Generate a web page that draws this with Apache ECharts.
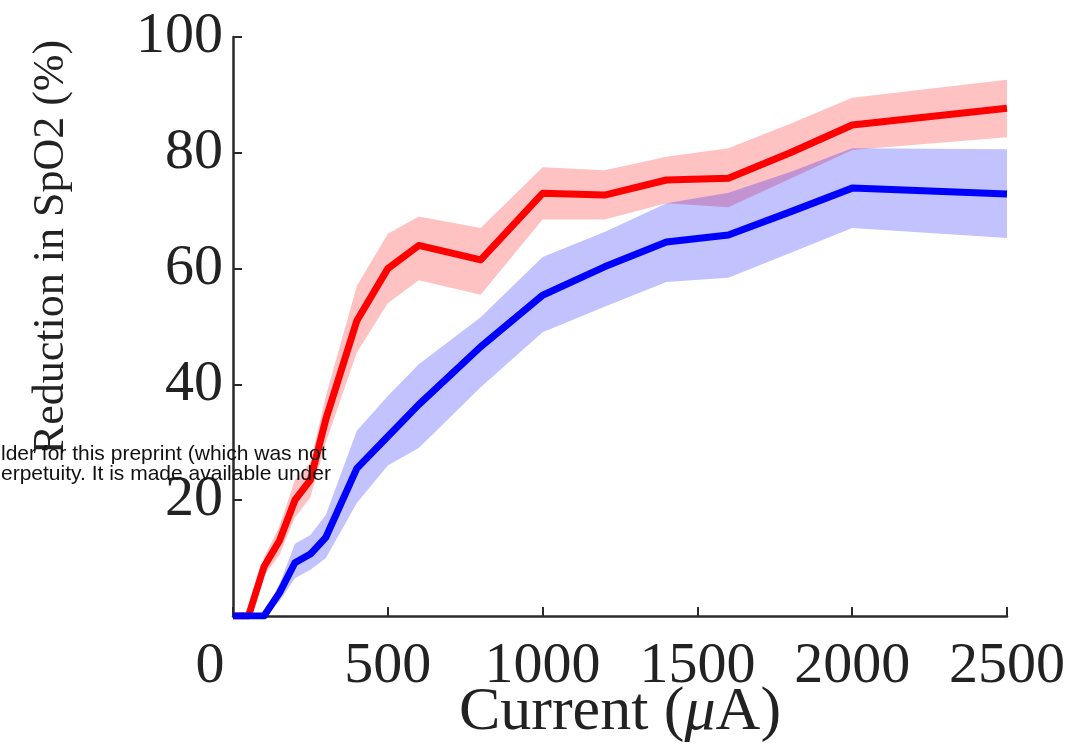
<!DOCTYPE html>
<html>
<head>
<meta charset="utf-8">
<script src="https://cdn.jsdelivr.net/npm/echarts@6/dist/echarts.min.js"></script>
<style>html,body{margin:0;padding:0;background:#fff}#c{width:1069px;height:748px}</style>
</head>
<body>
<div id="c"></div>
<script>
// Current (µA)
var currents = [0, 50, 100, 150, 200, 250, 300, 400, 500, 600, 800, 1000, 1200, 1400, 1600, 1800, 2000, 2500];
// Red series mean and band
var redMean  = [0, 0, 8.5, 13, 20, 23.5, 34, 51, 60, 64, 61.5, 73, 72.7, 75.3, 75.6, 80, 84.8, 87.7];
var redUpper = [0, 0, 10, 15.5, 23.5, 26.5, 38, 57, 66, 69, 67, 77.5, 77, 79.3, 80.8, 85, 89.5, 92.6];
var redLower = [0, 0, 7, 10.5, 17, 20.5, 30, 45.5, 54, 58, 55.5, 68.5, 68.5, 71.3, 70.6, 75.5, 80.5, 82.7];
// Blue series mean and band
var blueMean  = [0, 0, 0, 4, 9.2, 10.7, 13.6, 25.5, 31, 36.5, 46.5, 55.4, 60.3, 64.6, 65.8, 69.8, 73.9, 72.9];
var blueUpper = [0, 0, 0.5, 5.5, 12.5, 14, 17.5, 32, 38, 43.5, 51.6, 62, 66.3, 71.3, 73.1, 76.7, 80.8, 80.6];
var blueLower = [0, 0, 0, 2.5, 6.5, 8, 10, 19.5, 26, 29, 39.5, 49, 53.4, 57.7, 58.4, 62.7, 67, 65.3];
// Tick labels
var xTicks = [0, 500, 1000, 1500, 2000, 2500];
var yTicks = [20, 40, 60, 80, 100];

function pairs(ys) { return currents.map(function (x, i) { return [x, ys[i]]; }); }

var serif = '"Liberation Serif", "Times New Roman", serif';
var chart = echarts.init(document.getElementById('c'), null, {renderer: 'canvas'});

function band(name, up, lo, color) {
  var rows = currents.map(function (x, i) { return [x, up[i], lo[i]]; });
  return {
    type: 'custom', name: name, data: rows, encode: {x: 0, y: [1, 2]}, silent: true, z: 1,
    renderItem: function (params, api) {
      if (params.dataIndex !== 0) return null;
      var pts = [], i;
      for (i = 0; i < rows.length; i++) pts.push(api.coord([rows[i][0], rows[i][1]]));
      for (i = rows.length - 1; i >= 0; i--) pts.push(api.coord([rows[i][0], rows[i][2]]));
      return {type: 'polygon', shape: {points: pts}, style: {fill: color, stroke: null}};
    }
  };
}

chart.setOption({
  animation: false,
  backgroundColor: '#fff',
  grid: {left: 233, right: 62, top: 37, bottom: 132, containLabel: false, outerBoundsMode: 'none'},
  xAxis: {
    type: 'value', min: 0, max: 2500, interval: 500,
    axisLine: {show: true, lineStyle: {color: '#2a2a2a', width: 2.5}},
    axisTick: {show: true, inside: true, length: 9, lineStyle: {color: '#2a2a2a', width: 2}},
    splitLine: {show: false},
    axisLabel: {
      margin: 22, color: '#222', fontFamily: serif, fontSize: 58,
      formatter: function (v) { return xTicks.indexOf(v) === 0 ? '{z|' + v + '}' : String(v); },
      rich: {z: {fontFamily: serif, fontSize: 58, color: '#222', padding: [0, 46, 0, 0]}}
    },
    name: 'Current ({it|μ}A)', nameLocation: 'middle', nameGap: 66, nameMoveOverlap: false,
    nameTextStyle: {fontFamily: serif, fontSize: 62, color: '#222',
      rich: {it: {fontFamily: serif, fontSize: 62, fontStyle: 'italic', color: '#222'}}}
  },
  yAxis: {
    type: 'value', min: 0, max: 100, interval: 20,
    axisLine: {show: true, lineStyle: {color: '#2a2a2a', width: 2.5}},
    axisTick: {show: true, inside: true, length: 9, lineStyle: {color: '#2a2a2a', width: 2}},
    splitLine: {show: false},
    axisLabel: {
      margin: 10, color: '#222', fontFamily: serif, fontSize: 58,
      formatter: function (v) { return yTicks.indexOf(v) >= 0 ? String(v) : ''; }
    }
  },
  series: [
    band('redBand', redUpper, redLower, 'rgba(255,0,0,0.24)'),
    band('blueBand', blueUpper, blueLower, 'rgba(0,0,255,0.24)'),
    {type: 'line', name: 'red', data: pairs(redMean), symbol: 'none',
      lineStyle: {color: '#ff0000', width: 7, join: 'round'}, z: 3},
    {type: 'line', name: 'blue', data: pairs(blueMean), symbol: 'none',
      lineStyle: {color: '#0000ff', width: 7, join: 'round'}, z: 4}
  ],
  graphic: [
    {type: 'text', x: 51, y: 247, rotation: Math.PI / 2, z: 50,
      style: {text: 'Reduction in SpO2 (%)', fontFamily: serif, fontSize: 44, fill: '#222',
        textAlign: 'center', textVerticalAlign: 'middle', verticalAlign: 'middle'}},
    {type: 'text', x: 1, y: 444, z: 100,
      style: {text: 'lder for this preprint (which was not\nerpetuity. It is made available under',
        fontFamily: '"Liberation Sans", Arial, sans-serif', fontSize: 21, lineHeight: 20, fill: '#111'}}
  ]
});
</script>
</body>
</html>
